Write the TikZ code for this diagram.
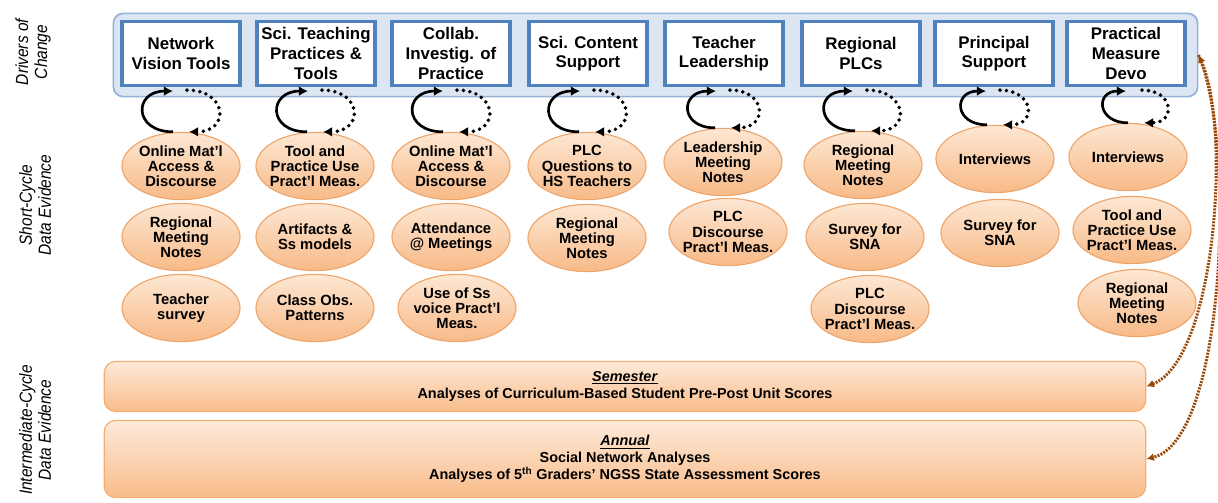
\documentclass[tikz,border=0pt]{standalone}
\usepackage{fontspec}
\setmainfont{Liberation Sans}
\newfontfamily\narrowfont[FakeStretch=0.88]{Liberation Sans}
\usetikzlibrary{shapes.geometric,arrows.meta,positioning}
\definecolor{bandfill}{RGB}{220,230,242}
\definecolor{bandline}{RGB}{149,179,215}
\definecolor{driverline}{RGB}{79,129,189}
\definecolor{evtop}{RGB}{253,231,212}
\definecolor{evbot}{RGB}{248,186,135}
\definecolor{evline}{RGB}{238,165,108}
\definecolor{widetop}{RGB}{253,234,218}
\definecolor{widebot}{RGB}{249,188,138}
\definecolor{wideline}{RGB}{244,172,112}
\definecolor{brownlink}{RGB}{152,72,7}
\tikzset
{
    band/.style      = {rectangle, rounded corners=7pt, draw=bandline, line width=1.2pt, fill=bandfill, minimum width=27.1cm, minimum height=2.08cm},
    driver/.style    = {rectangle, draw=driverline, line width=2.2pt, fill=white, align=center, minimum width=2.95cm, minimum height=1.6cm, inner sep=1pt, font=\fontsize{12}{14}\selectfont\bfseries},
    evidence/.style  = {ellipse, draw=evline, line width=0.8pt, top color=evtop, bottom color=evbot, align=center, minimum width=2.95cm, minimum height=1.68cm, inner xsep=-5pt, inner ysep=-2pt, font=\fontsize{10.5}{10.8}\selectfont\bfseries},
    wide/.style      = {rectangle, rounded corners=8pt, draw=wideline, line width=0.8pt, top color=widetop, bottom color=widebot, align=center, minimum width=26.03cm, font=\fontsize{10.25}{12}\selectfont\bfseries},
    sidelabel/.style = {rotate=90, align=center, font=\narrowfont\itshape\fontsize{12.5}{13.5}\selectfont},
    cycsolid/.style  = {-{Latex[length=6.5pt,width=7pt]}, line width=1.9pt, out=180, in=180, looseness=2.5},
    cycdots/.style   = {-{Latex[length=6.5pt,width=7pt]}, line width=2.8pt, line cap=round, dash pattern=on 0pt off 4.6pt, out=0, in=0, looseness=2.5},
    backlink/.style  = {line width=2.1pt, dash pattern=on 1.4pt off 0.9pt, draw=brownlink}
}
\newcommand\YD{53.5}

\begin{document}
\begin{tikzpicture}[x=0.025cm, y=-0.025cm]
\useasboundingbox (0,0) rectangle (1218,502);

% side labels
\node (lab1)	[sidelabel]	at (33,52)	{Drivers of\\Change};
\node (lab2)	[sidelabel]	at (35,205)	{Short-Cycle\\Data Evidence};
\node (lab3)	[sidelabel]	at (35,430)	{Intermediate-Cycle\\Data Evidence};

% drivers of change
\node (band)	[band]		at (655.5,55)		{};
\node (d1)		[driver]	at (181,\YD)		{Network\\Vision Tools};
\node (d2)		[driver]	at (316,\YD)		{Sci. Teaching\\Practices \&\\Tools};
\node (d3)		[driver]	at (451,\YD)		{Collab.\\Investig. of\\Practice};
\node (d4)		[driver]	at (588,\YD)		{Sci. Content\\Support};
\node (d5)		[driver]	at (724,\YD)		{Teacher\\Leadership};
\node (d6)		[driver]	at (861,\YD)		{Regional\\PLCs};
\node (d7)		[driver]	at (994,\YD)		{Principal\\Support};
\node (d8)		[driver]	at (1126,\YD)		{Practical\\Measure\\Devo};

% short-cycle evidence
\node (e11)	[evidence]	at (181,166)	{Online Mat'l\\Access \&\\Discourse};
\node (e12)	[evidence]	at (181,237)	{Regional\\Meeting\\Notes};
\node (e13)	[evidence]	at (181,308)	{Teacher\\survey};
\node (e21)	[evidence]	at (315,166)	{Tool and\\Practice Use\\Pract'l Meas.};
\node (e22)	[evidence]	at (315,237)	{Artifacts \&\\Ss models};
\node (e23)	[evidence]	at (315,308)	{Class Obs.\\Patterns};
\node (e31)	[evidence]	at (451,166)	{Online Mat'l\\Access \&\\Discourse};
\node (e32)	[evidence]	at (451,237)	{Attendance\\@ Meetings};
\node (e33)	[evidence]	at (457,308)	{Use of Ss\\voice Pract'l\\Meas.};
\node (e41)	[evidence]	at (587,166)	{PLC\\Questions to\\HS Teachers};
\node (e42)	[evidence]	at (587,238)	{Regional\\Meeting\\Notes};
\node (e51)	[evidence]	at (723,162)	{Leadership\\Meeting\\Notes};
\node (e52)	[evidence]	at (728,232)	{PLC\\Discourse\\Pract'l Meas.};
\node (e61)	[evidence]	at (863,165)	{Regional\\Meeting\\Notes};
\node (e62)	[evidence]	at (865,237)	{Survey for\\SNA};
\node (e63)	[evidence]	at (870,309)	{PLC\\Discourse\\Pract'l Meas.};
\node (e71)	[evidence]	at (995,159)	{Interviews};
\node (e72)	[evidence]	at (1000,233)	{Survey for\\SNA};
\node (e81)	[evidence]	at (1128,157)	{Interviews};
\node (e82)	[evidence]	at (1132,230)	{Tool and\\Practice Use\\Pract'l Meas.};
\node (e83)	[evidence]	at (1137,303)	{Regional\\Meeting\\Notes};

% intermediate-cycle evidence
\node (sem)	[wide,minimum height=1.25cm]	at (625,386.5)	{\underline{\textit{Semester}}\\Analyses of Curriculum-Based Student Pre-Post Unit Scores};
\node (ann)	[wide,minimum height=1.93cm]	at (625,459)	{\underline{\textit{Annual}}\\Social Network Analyses\\Analyses of 5\textsuperscript{th} Graders' NGSS State Assessment Scores};

% feedback loops
\path
([shift={(-8,0)}]e11.north)	edge[cycsolid]	([shift={(-8,4)}]d1.south)
([shift={(6,3)}]d1.south)		edge[cycdots]		([shift={(8,0)}]e11.north)
([shift={(-8,0)}]e21.north)	edge[cycsolid]	([shift={(-8,4)}]d2.south)
([shift={(6,3)}]d2.south)		edge[cycdots]		([shift={(8,0)}]e21.north)
([shift={(-8,0)}]e31.north)	edge[cycsolid]	([shift={(-8,4)}]d3.south)
([shift={(6,3)}]d3.south)		edge[cycdots]		([shift={(8,0)}]e31.north)
([shift={(-8,0)}]e41.north)	edge[cycsolid]	([shift={(-8,4)}]d4.south)
([shift={(6,3)}]d4.south)		edge[cycdots]		([shift={(8,0)}]e41.north)
([shift={(-8,0)}]e51.north)	edge[cycsolid]	([shift={(-8,4)}]d5.south)
([shift={(6,3)}]d5.south)		edge[cycdots]		([shift={(8,0)}]e51.north)
([shift={(-8,0)}]e61.north)	edge[cycsolid]	([shift={(-8,4)}]d6.south)
([shift={(6,3)}]d6.south)		edge[cycdots]		([shift={(8,0)}]e61.north)
([shift={(-8,0)}]e71.north)	edge[cycsolid]	([shift={(-8,4)}]d7.south)
([shift={(6,3)}]d7.south)		edge[cycdots]		([shift={(8,0)}]e71.north)
([shift={(0,0)}]e81.north)		edge[cycsolid]	([shift={(0,4)}]d8.south)
([shift={(16,3)}]d8.south)	edge[cycdots]		([shift={(16,0)}]e81.north);

% links back to the drivers
\draw[backlink, {Latex[length=5.5pt,width=5.5pt]}-{Latex[length=5.5pt,width=5.5pt]}] (band.east) .. controls (1232,130) and (1215,360) .. (sem.east);
\draw[backlink, -{Latex[length=5.5pt,width=5.5pt]}] (band.east) .. controls (1236,140) and (1226,440) .. (ann.east);

\end{tikzpicture}
\end{document}
